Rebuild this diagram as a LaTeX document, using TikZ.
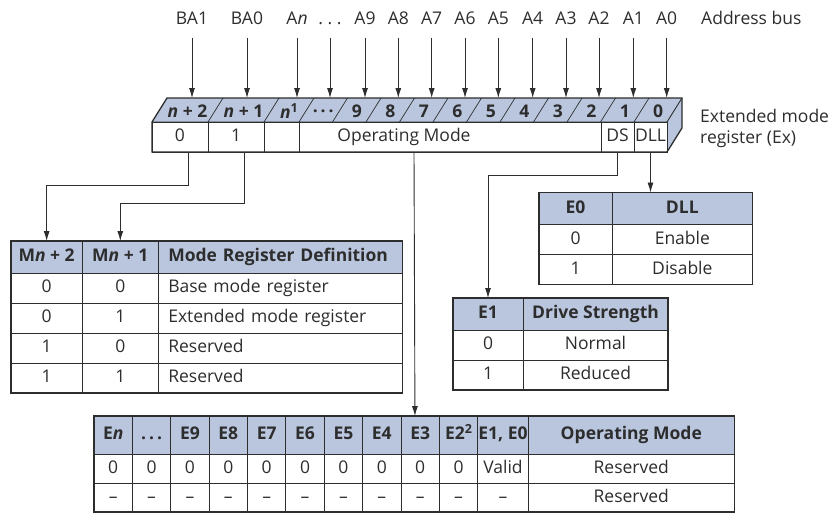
\documentclass[tikz,border=0pt]{standalone}
\usepackage{fontspec}
\setmainfont{Open Sans}
\usetikzlibrary{arrows.meta}
\definecolor{hdr}{RGB}{185,198,222}
\definecolor{ln}{RGB}{45,45,45}
\newcommand\fs{\fontsize{17.5}{21}\selectfont}
\newcommand\sups[1]{\raisebox{6pt}{\fontsize{12.5}{13}\selectfont #1}}
\newcommand\dotsx{.\hspace{3pt}.\hspace{3pt}.}
\begin{document}
\begin{tikzpicture}[x=1pt,y=-1pt,
  txt/.style={font=\fs, inner sep=0pt, text=ln},
  arr/.style={-{Latex[length=10pt,width=6pt]}, line width=0.9pt, draw=ln},
  cell/.style={draw=ln, line width=0.8pt, inner sep=0pt, outer sep=0pt, font=\fs, text=ln, text height=13pt, text depth=3.5pt, anchor=center},
  hcell/.style={cell, fill=hdr, font=\fs\bfseries},
  border/.style={draw=ln, line width=1.3pt}]
\useasboundingbox (0,0) rectangle (837,514);

% ---------- register (3D) ----------
\fill[hdr] (152,122) -- (167,98) -- (682,98) -- (667,122) -- cycle;
\fill[hdr] (667,122) -- (682,98) -- (682,128) -- (667,152) -- cycle;
\foreach \X in {208,264,299,332.5,366,399.5,433,466.5,500,533.5,567,600.5,634}
  \draw[draw=ln, line width=0.7pt] (\X,122) -- ++(15,-24);
\node[cell, minimum width=56pt, minimum height=30pt] (f0) at (180,137) {0};
\node[cell, minimum width=56pt, minimum height=30pt] (f1) at (236,137) {1};
\node[cell, minimum width=35pt, minimum height=30pt] (fb) at (281.5,137) {};
\node[cell, minimum width=302pt, minimum height=30pt] (fop) at (450,137) {};
\node[txt] (fopt) at (404,137) {Operating Mode};
\node[cell, minimum width=33pt, minimum height=30pt] (fds) at (617.5,137) {DS};
\node[cell, minimum width=33pt, minimum height=30pt] (fdll) at (650.5,137) {DLL};
\draw[border] (152,122) -- (167,98) -- (682,98) -- (682,128) -- (667,152) -- (152,152) -- cycle;
\draw[draw=ln, line width=0.9pt] (152,122) -- (667,122) -- (682,98);
\draw[draw=ln, line width=0.9pt] (667,122) -- (667,152);
% top face labels
\foreach \c/\t in {187.5/{\textit{n} + 2}, 243.5/{\textit{n} + 1}, 289/{\textit{n}\sups{1}},
  323.25/{\dotsx}, 356.75/9, 390.25/8, 423.75/7, 457.25/6, 490.75/5, 524.25/4,
  557.75/3, 591.25/2, 624.75/1, 658/0}
  \node[txt, font=\fs\bfseries] at (\c,111) {\t};

% ---------- address bus ----------
\coordinate (back) at (0,98);
\foreach \x/\t/\nm in {192/BA1/ba1, 247/BA0/ba0, 297/{A\textit{n}}/an, 330/{.\ .\ .}/adots,
  365/A9/a9, 398.3/A8/a8, 431.7/A7/a7, 465/A6/a6, 498.3/A5/a5, 532.7/A4/a4,
  566/A3/a3, 599/A2/a2, 633.3/A1/a1, 666.7/A0/a0}
{
  \node[txt, anchor=base] (\nm) at (\x,24) {\t};
  \draw[arr] ([yshift=-14pt]\nm.base) -- (\nm.base |- back);
}
\node[txt, anchor=base west] (abus) at (701,24) {Address bus};
\node[txt, anchor=base west] (ex1) at (700,122) {Extended mode};
\node[txt, anchor=base west] (ex2) at (700,143) {register (Ex)};

% ---------- table 1 ----------
\node[hcell, minimum width=71.3pt, minimum height=32pt] (t1h1) at (46.65,257) {M\textit{n} + 2};
\node[hcell, minimum width=76pt, minimum height=32pt] (t1h2) at (120.3,257) {M\textit{n} + 1};
\node[hcell, minimum height=32pt, text width=224pt, inner xsep=10pt, align=left] (t1h3) at (280.3,257) {Mode Register Definition};
\foreach \a/\b/\d [count=\r] in {0/0/Base mode register, 0/1/Extended mode register, 1/0/Reserved, 1/1/Reserved}
{
  \node[cell, minimum width=71.3pt, minimum height=30pt] (t1a\r) at (46.65,{258+30*\r}) {\a};
  \node[cell, minimum width=76pt, minimum height=30pt] (t1b\r) at (120.3,{258+30*\r}) {\b};
  \node[cell, minimum height=30pt, text width=224pt, inner xsep=10pt, align=left] (t1c\r) at (280.3,{258+30*\r}) {\d};
}
\draw[border] (11,241) rectangle (402.3,393);

% ---------- table 2 ----------
\node[hcell, minimum width=73pt, minimum height=32pt] (t2h1) at (575.5,208.5) {E0};
\node[hcell, minimum width=140.7pt, minimum height=32pt] (t2h2) at (682.35,208.5) {DLL};
\foreach \a/\b [count=\r] in {0/Enable, 1/Disable}
{
  \node[cell, minimum width=73pt, minimum height=30pt] (t2a\r) at (575.5,{209.5+30*\r}) {\a};
  \node[cell, minimum width=140.7pt, minimum height=30pt] (t2b\r) at (682.35,{209.5+30*\r}) {\b};
}
\draw[border] (539,192.5) rectangle (752.7,284.5);

% ---------- table 3 ----------
\node[hcell, minimum width=70pt, minimum height=32pt] (t3h1) at (488,314) {E1};
\node[hcell, minimum width=145pt, minimum height=32pt] (t3h2) at (595.5,314) {Drive Strength};
\foreach \a/\b [count=\r] in {0/Normal, 1/Reduced}
{
  \node[cell, minimum width=70pt, minimum height=30pt] (t3a\r) at (488,{315+30*\r}) {\a};
  \node[cell, minimum width=145pt, minimum height=30pt] (t3b\r) at (595.5,{315+30*\r}) {\b};
}
\draw[border] (453,298) rectangle (668,390);

% ---------- table 4 ----------
\foreach \t [count=\i from 0] in {{E\textit{n}},{\dotsx},E9,E8,E7,E6,E5,E4,E3,{E2\sups{2}}}
{
  \node[hcell, minimum width=38.37pt, minimum height=38pt] (t4h\i) at ({94+38.37*(\i+0.5)},435) {\t};
  \node[cell, minimum width=38.37pt, minimum height=29pt] (t4a\i) at ({94+38.37*(\i+0.5)},468.5) {0};
  \node[cell, minimum width=38.37pt, minimum height=29pt] (t4b\i) at ({94+38.37*(\i+0.5)},497.5) {--};
}
\node[hcell, minimum width=50.6pt, minimum height=38pt] (t4h10) at (503,435) {E1, E0};
\node[hcell, minimum width=206pt, minimum height=38pt] (t4h11) at (631.3,435) {Operating Mode};
\node[cell, minimum width=50.6pt, minimum height=29pt] (t4a10) at (503,468.5) {Valid};
\node[cell, minimum width=206pt, minimum height=29pt] (t4a11) at (631.3,468.5) {Reserved};
\node[cell, minimum width=50.6pt, minimum height=29pt] (t4b10) at (503,497.5) {--};
\node[cell, minimum width=206pt, minimum height=29pt] (t4b11) at (631.3,497.5) {Reserved};
\draw[border] (94,416) rectangle (734.3,512);

% ---------- connectors ----------
\draw[arr] ([xshift=8pt]f0.south) -- ++(0,33) -| (t1h1.north);
\draw[arr] ([xshift=8pt]f1.south) -- ++(0,51) -| (t1h2.north);
\draw[arr] ([xshift=-36pt]fop.south) -- ([xshift=-5.2pt]t4h8.north);
\draw[arr] (fds.south) -- ++(0,23) -| (t3h1.north);
\draw[arr] (fdll.south) -- (fdll.south |- t2h2.north);
\end{tikzpicture}
\end{document}
